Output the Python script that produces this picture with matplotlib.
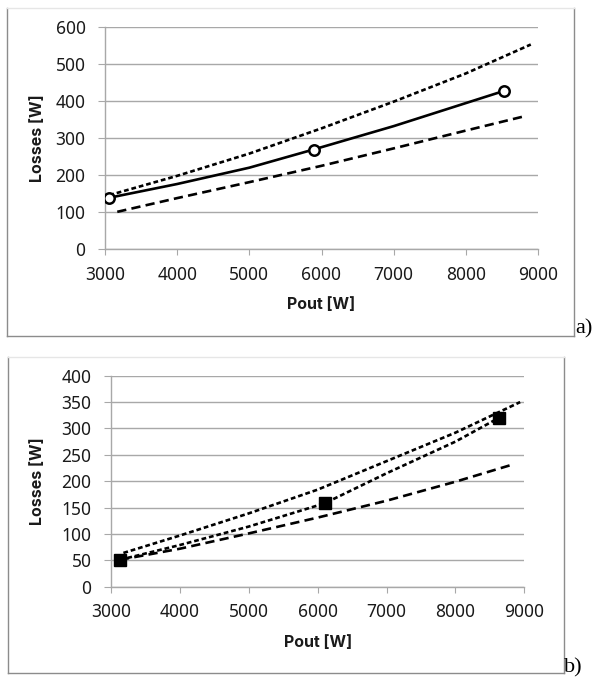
import matplotlib
matplotlib.use('Agg')
import matplotlib.pyplot as plt
from matplotlib.lines import Line2D

plt.rcParams['font.family'] = ['Noto Sans', 'DejaVu Sans']

# panel a) - measured points and the two estimate curves
a_pts_x = [3060, 5890, 8530]
a_pts_y = [139, 269, 427]
a_solid_x = [3060, 4000, 5000, 5890, 7000, 8530]
a_solid_y = [139, 176, 220, 269, 332, 427]
a_upper_x = [3060, 4000, 5000, 6000, 7000, 8000, 8900]
a_upper_y = [146, 198, 258, 326, 398, 474, 552]
a_lower_x = [3170, 4000, 5000, 6000, 7000, 8000, 8800]
a_lower_y = [101, 138, 181, 225, 272, 320, 358]

# panel b)
b_pts_x = [3130, 6100, 8630]
b_pts_y = [51, 158, 320]
b_upper_x = [3180, 4000, 5000, 6000, 7000, 8000, 8940]
b_upper_y = [64, 97, 139, 184, 238, 292, 350]
b_mid_x = [3130, 4000, 5000, 6100, 7000, 8000, 8630]
b_mid_y = [51, 79, 114, 158, 215, 275, 320]
b_lower_x = [3130, 4000, 5000, 6000, 7000, 8000, 8815]
b_lower_y = [51, 72, 101, 131, 163, 199, 231]

x_ticks = [3000, 4000, 5000, 6000, 7000, 8000, 9000]
a_y_ticks = [0, 100, 200, 300, 400, 500, 600]
b_y_ticks = [0, 50, 100, 150, 200, 250, 300, 350, 400]

W, H = 597, 679
fig = plt.figure(figsize=(W / 100, H / 100), dpi=100)

LW = 1.9
SHORT = (1.8, 1.1)
LONG = (3.5, 2.0)
GRID = '#a8a8a8'
TXT = '#1a1a1a'
LABEL_FONT = ['Inter', 'Lato', 'DejaVu Sans']


def px_box(l, t, r, b):
    return [l / W, 1 - b / H, (r - l) / W, (b - t) / H]


def frame(l, t, r, b):
    col = '#8c8c8c'
    segs = [((l, l), (t, b)), ((r, r), (t, b)), ((l, r), (b, b))]
    for xs, ys in segs:
        fig.add_artist(Line2D([x / W for x in xs], [1 - y / H for y in ys],
                              color=col, lw=1.0))
    fig.add_artist(Line2D([l / W, r / W], [1 - t / H, 1 - t / H],
                          color='#e6e6e6', lw=1.0))


def style_axes(ax, yticks, xlab_y, ylab_x):
    ax.set_xlim(3000, 9000)
    ax.set_ylim(yticks[0], yticks[-1])
    ax.set_xticks(x_ticks)
    ax.set_yticks(yticks)
    ax.grid(axis='y', color=GRID, lw=1.0)
    ax.set_axisbelow(True)
    for s in ['top', 'right']:
        ax.spines[s].set_visible(False)
    for s in ['left', 'bottom']:
        ax.spines[s].set_color(GRID)
        ax.spines[s].set_linewidth(1.0)
    ax.tick_params(axis='x', length=4, width=0.8, color=GRID, pad=8,
                   labelsize=12.5, labelcolor=TXT)
    ax.tick_params(axis='y', length=5, width=0.8, color=GRID, pad=9,
                   labelsize=12.5, labelcolor=TXT)
    ax.set_xlabel('Pout [W]', fontsize=11.5, fontweight='bold', color=TXT,
                  family=LABEL_FONT)
    ax.set_ylabel('Losses [W]', fontsize=11.5, fontweight='bold', color=TXT,
                  family=LABEL_FONT)
    ax.xaxis.set_label_coords(0.5, xlab_y)
    ax.yaxis.set_label_coords(ylab_x, 0.5)


# panel a
frame(7, 8, 573.5, 335.5)
ax1 = fig.add_axes(px_box(105, 26.7, 538, 249.3))
ax1.plot(a_upper_x, a_upper_y, color='black', lw=LW, dashes=SHORT)
ax1.plot(a_lower_x, a_lower_y, color='black', lw=LW, dashes=LONG)
ax1.plot(a_solid_x, a_solid_y, color='black', lw=1.9)
ax1.plot(a_pts_x, a_pts_y, 'o', color='black', mfc='white', ms=7.5, mew=1.8,
         zorder=5)
style_axes(ax1, a_y_ticks, -0.214, -0.139)
fig.text(575 / W, 1 - 333 / H, 'a)', family='Liberation Serif', fontsize=16,
         ha='left', va='baseline')

# panel b
frame(8, 357.3, 563.7, 673.3)
ax2 = fig.add_axes(px_box(111, 375.7, 524.3, 586.7))
ax2.plot(b_upper_x, b_upper_y, color='black', lw=LW, dashes=SHORT)
ax2.plot(b_mid_x, b_mid_y, color='black', lw=LW, dashes=SHORT)
ax2.plot(b_lower_x, b_lower_y, color='black', lw=LW, dashes=LONG)
ax2.plot(b_pts_x, b_pts_y, 's', color='black', ms=8, zorder=5)
style_axes(ax2, b_y_ticks, -0.229, -0.16)
fig.text(564 / W, 1 - 672 / H, 'b)', family='Liberation Serif', fontsize=16,
         ha='left', va='baseline')

fig.savefig('out.png', dpi=100)
